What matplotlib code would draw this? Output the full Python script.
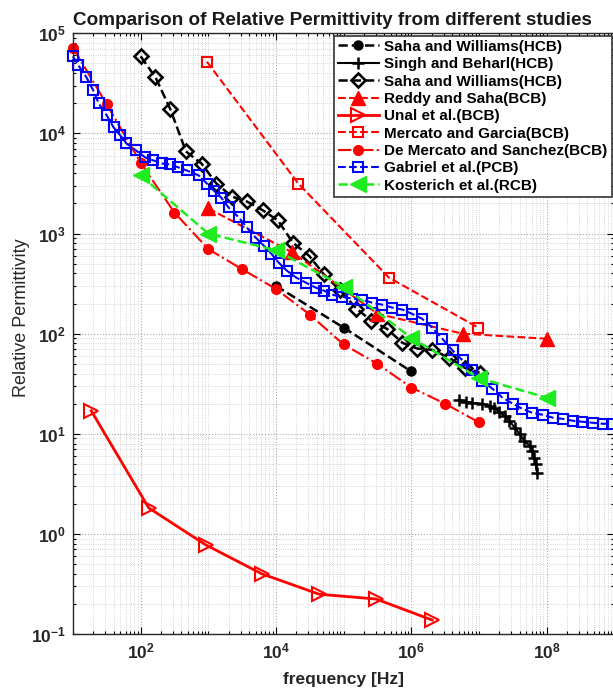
import matplotlib
matplotlib.use("Agg")
import matplotlib.pyplot as plt
import numpy as np
from matplotlib.ticker import FixedLocator, LogLocator, NullFormatter, FuncFormatter

plt.rcParams["font.family"] = ["Liberation Sans", "DejaVu Sans"]
plt.rcParams["font.weight"] = "bold"
plt.rcParams["mathtext.fontset"] = "custom"
plt.rcParams["mathtext.rm"] = "Liberation Sans:bold"
plt.rcParams["mathtext.bf"] = "Liberation Sans:bold"
plt.rcParams["mathtext.default"] = "bf"

# ---------------------------------------------------------------------------
# Data (frequencies as log10(Hz))
# ---------------------------------------------------------------------------
saha_circ_logf = [4.0, 5.0, 6.0]
saha_circ_eps = [300, 115, 42]

singh_logf = [6.71, 6.81, 6.90, 7.05, 7.16, 7.23, 7.30, 7.38, 7.45, 7.53,
              7.60, 7.67, 7.75, 7.79, 7.82, 7.84, 7.86]
singh_eps = [21.9, 20.9, 20.4, 20.0, 19.1, 18.2, 16.6, 15.1, 13.5, 11.5,
             10.0, 8.5, 7.6, 6.8, 5.75, 5.0, 4.1]

saha_dia_logf = [2.00, 2.22, 2.44, 2.67, 2.90, 3.12, 3.35, 3.57, 3.81, 4.03,
                 4.25, 4.49, 4.71, 4.95, 5.19, 5.41, 5.64, 5.87, 6.09, 6.31,
                 6.56, 6.79, 7.01]
saha_dia_eps = [58900, 36300, 17400, 6600, 5000, 3160, 2340, 2090, 1700, 1350,
                810, 600, 390, 270, 178, 135, 112, 81, 71, 69,
                57.5, 45.7, 40.7]

reddy_logf = [3.0, 4.24, 5.50, 6.76, 8.0]
reddy_eps = [1780, 650, 158, 100, 89]

unal_logf = [1.27, 2.12, 2.96, 3.79, 4.64, 5.48, 6.31]
unal_eps = [17, 1.82, 0.78, 0.40, 0.25, 0.224, 0.138]

mercato_logf = [2.98, 4.33, 5.67, 6.99]
mercato_eps = [52000, 3160, 363, 115]

demercato_logf = [1.0, 1.5, 2.0, 2.5, 3.0, 3.5, 4.0, 4.5, 5.0, 5.5, 6.0, 6.5, 7.0]
demercato_eps = [72000, 19500, 5100, 1620, 700, 440, 280, 155, 78, 50, 29, 20, 13]

gabriel_logf = [1.00, 1.08, 1.20, 1.30, 1.38, 1.50, 1.60, 1.70, 1.79, 1.93,
                2.07, 2.19, 2.31, 2.44, 2.56, 2.68, 2.86, 2.98, 3.08, 3.19,
                3.30, 3.45, 3.57, 3.70, 3.82, 3.93, 4.04, 4.16, 4.30, 4.44,
                4.59, 4.71, 4.83, 4.98, 5.13, 5.27, 5.42, 5.57, 5.72, 5.87,
                6.01, 6.16, 6.31, 6.46, 6.61, 6.76, 6.90, 7.05, 7.20, 7.35,
                7.50, 7.64, 7.79, 7.94, 8.09, 8.24, 8.39, 8.53, 8.68, 8.83,
                8.96]
gabriel_eps = [58900, 47900, 36300, 26900, 20000, 15100, 11500, 9550, 7940, 6760,
               5750, 5370, 5010, 4900, 4570, 4270, 3800, 3160, 2690, 2290,
               1820, 1450, 1150, 912, 759, 631, 513, 427, 363, 324,
               288, 269, 245, 234, 224, 219, 204, 195, 182, 174,
               158, 141, 115, 89, 68, 54, 43, 34, 28.2, 22.9,
               20.0, 17.8, 16.2, 15.5, 14.5, 14.1, 13.5, 13.2, 12.9, 12.6,
               12.6]

kosterich_logf = [2.0, 3.0, 4.0, 5.0, 6.0, 7.0, 8.0]
kosterich_eps = [3800, 1000, 680, 295, 91, 36, 23]

RED = "#ff0000"
BLUE = "#0000ff"
GREEN = "#1eec1e"


def hz(logf):
    return 10 ** np.asarray(logf)


fig = plt.figure(figsize=(6.13, 6.93), dpi=100)
ax = fig.add_axes([0.119, 0.085, 0.883, 0.867])

common = dict(clip_on=False)
ax.plot(hz(saha_circ_logf), saha_circ_eps, ls="--", color="black", lw=1.8,
        marker="o", ms=6.5, mfc="black", mec="black",
        label="Saha and Williams(HCB)", **common)
ax.plot(hz(singh_logf), singh_eps, ls="-", color="black", lw=1.5,
        marker="+", ms=8, mew=1.8, label="Singh and Beharl(HCB)", **common)
ax.plot(hz(saha_dia_logf), saha_dia_eps, ls="--", color="black", lw=1.8,
        marker="D", ms=7, mfc="none", mec="black", mew=1.9,
        label="Saha and Williams(HCB)", **common)
ax.plot(hz(reddy_logf), reddy_eps, ls="--", color=RED, lw=1.5,
        marker="^", ms=10, mfc=RED, mec=RED, label="Reddy and Saha(BCB)", **common)
ax.plot(hz(unal_logf), unal_eps, ls="-", color=RED, lw=2.0,
        marker=">", ms=10, mfc="none", mec=RED, mew=1.5,
        label="Unal et al.(BCB)", **common)
ax.plot(hz(mercato_logf), mercato_eps, ls="--", color=RED, lw=1.5,
        marker="s", ms=7.5, mfc="none", mec=RED, mew=1.5,
        label="Mercato and Garcia(BCB)", **common)
ax.plot(hz(demercato_logf), demercato_eps, ls="-.", color=RED, lw=1.5,
        marker="o", ms=7, mfc=RED, mec=RED,
        label="De Mercato and Sanchez(BCB)", **common)
ax.plot(hz(gabriel_logf), gabriel_eps, ls="--", color=BLUE, lw=1.5,
        marker="s", ms=7.5, mfc="none", mec=BLUE, mew=1.5,
        label="Gabriel et al.(PCB)", **common)
ax.plot(hz(kosterich_logf), kosterich_eps, ls="--", color=GREEN, lw=1.8,
        marker="<", ms=11, mfc=GREEN, mec=GREEN,
        label="Kosterich et al.(RCB)", **common)

ax.set_xscale("log")
ax.set_yscale("log")
ax.set_xlim(10, 1e9)
ax.set_ylim(0.1, 1e5)

ax.xaxis.set_major_locator(FixedLocator([1e2, 1e4, 1e6, 1e8]))
ax.xaxis.set_minor_locator(LogLocator(base=10, subs=np.arange(1, 10), numticks=50))
ax.xaxis.set_minor_formatter(NullFormatter())
ax.yaxis.set_major_locator(FixedLocator([1e-1, 1e0, 1e1, 1e2, 1e3, 1e4, 1e5]))
ax.yaxis.set_minor_locator(LogLocator(base=10, subs=np.arange(2, 10), numticks=50))
ax.yaxis.set_minor_formatter(NullFormatter())
fmt = FuncFormatter(lambda v, _: r"$10^{%d}$" % int(round(np.log10(v))))
ax.xaxis.set_major_formatter(fmt)
ax.yaxis.set_major_formatter(fmt)

ax.tick_params(which="both", direction="in", top=True, right=True,
               labelsize=12.5, width=0.8, labelcolor="#262626")
ax.tick_params(which="major", length=5, pad=5)
ax.tick_params(which="minor", length=2.5)
for s in ax.spines.values():
    s.set_linewidth(1.0)
    s.set_color("#262626")

ax.grid(True, which="major", ls=":", color="#a8a8a8", lw=0.8)
ax.grid(True, which="minor", ls=":", color="#c8c8c8", lw=0.6)
ax.set_axisbelow(True)

ax.set_title("Comparison of Relative Permittivity from different studies",
             fontsize=13.6, fontweight="bold", pad=6, color="#1a1a1a", x=0.48)
ax.set_xlabel("frequency [Hz]", fontsize=12.5, fontweight="bold", labelpad=8,
              color="#262626")
ax.set_ylabel("Relative Permittivity", fontsize=13, fontweight="normal",
              labelpad=10, color="#262626")
ax.yaxis.set_label_coords(-0.08, 0.527)

leg = ax.legend(loc="upper right", bbox_to_anchor=(1.0, 1.0), fontsize=11,
                frameon=True, fancybox=False, edgecolor="#333333",
                handlelength=2.7, handletextpad=0.35, labelspacing=0.22,
                borderpad=0.28, borderaxespad=0.15, framealpha=1)
leg.get_frame().set_linewidth(1.2)
for t in leg.get_texts():
    t.set_fontweight("bold")

fig.savefig("out.png", dpi=100)
